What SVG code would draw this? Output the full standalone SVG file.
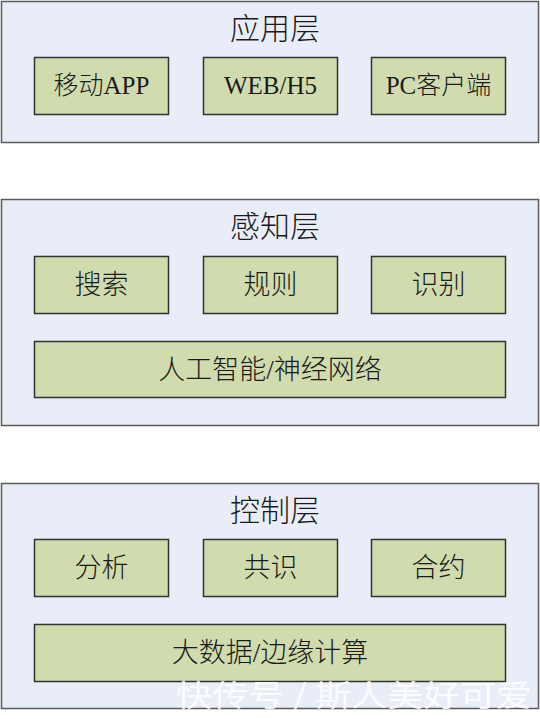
<svg xmlns="http://www.w3.org/2000/svg" width="540" height="719" viewBox="0 0 540 719">
<style>
.layer{fill:#E8EDF7;stroke:#5A5A5A;stroke-width:1.5}
.item{fill:#D0DCAE;stroke:#333333;stroke-width:1.5}
.title{font-family:"Liberation Serif","Noto Sans CJK SC",serif;font-size:30px;font-weight:300;fill:#1a1a1a;text-anchor:middle}
.lbl{font-family:"Liberation Serif","Noto Sans CJK SC",serif;font-size:25px;font-weight:300;fill:#1a1a1a;text-anchor:middle}
.cn{font-size:27px}
.wm{font-family:"Noto Sans CJK SC",sans-serif;font-size:30px;fill:#ffffff;fill-opacity:0.9}
</style>
<rect width="540" height="719" fill="#ffffff"/>
<g id="app-layer">
<rect class="layer" x="1.5" y="1.5" width="537" height="141"/>
<text class="title" x="275" y="39">应用层</text>
</g>
<g id="mobile-app"><rect class="item" x="34.5" y="57.5" width="134" height="57"/><text class="lbl" x="101.5" y="94">移动APP</text></g>
<g id="web-h5"><rect class="item" x="203.5" y="57.5" width="134" height="57"/><text class="lbl" x="270.5" y="94">WEB/H5</text></g>
<g id="pc-client"><rect class="item" x="371.5" y="57.5" width="134" height="57"/><text class="lbl" x="438.5" y="94">PC客户端</text></g>

<g id="perception-layer">
<rect class="layer" x="1.5" y="199.5" width="537" height="226"/>
<text class="title" x="275" y="237">感知层</text>
</g>
<g id="search"><rect class="item" x="34.5" y="256.5" width="134" height="57"/><text class="lbl cn" x="101.5" y="294">搜索</text></g>
<g id="rules"><rect class="item" x="203.5" y="256.5" width="134" height="57"/><text class="lbl cn" x="270.5" y="294">规则</text></g>
<g id="recognition"><rect class="item" x="371.5" y="256.5" width="134" height="57"/><text class="lbl cn" x="438.5" y="294">识别</text></g>
<g id="ai-nn"><rect class="item" x="34.5" y="341.5" width="471" height="56"/><text class="lbl cn" x="270" y="379">人工智能/神经网络</text></g>

<g id="control-layer">
<rect class="layer" x="1.5" y="483.5" width="537" height="225"/>
<text class="title" x="275" y="521">控制层</text>
</g>
<g id="analysis"><rect class="item" x="34.5" y="539.5" width="134" height="57"/><text class="lbl cn" x="101.5" y="577">分析</text></g>
<g id="consensus"><rect class="item" x="203.5" y="539.5" width="134" height="57"/><text class="lbl cn" x="270.5" y="577">共识</text></g>
<g id="contract"><rect class="item" x="371.5" y="539.5" width="134" height="57"/><text class="lbl cn" x="438.5" y="577">合约</text></g>
<g id="bigdata-edge"><rect class="item" x="34.5" y="624.5" width="471" height="57"/><text class="lbl cn" x="270" y="662">大数据/边缘计算</text></g>

<g id="connectors"></g>
<text class="wm" x="176" y="706" textLength="356" lengthAdjust="spacingAndGlyphs">快传号 / 斯人美好可爱</text>
</svg>
